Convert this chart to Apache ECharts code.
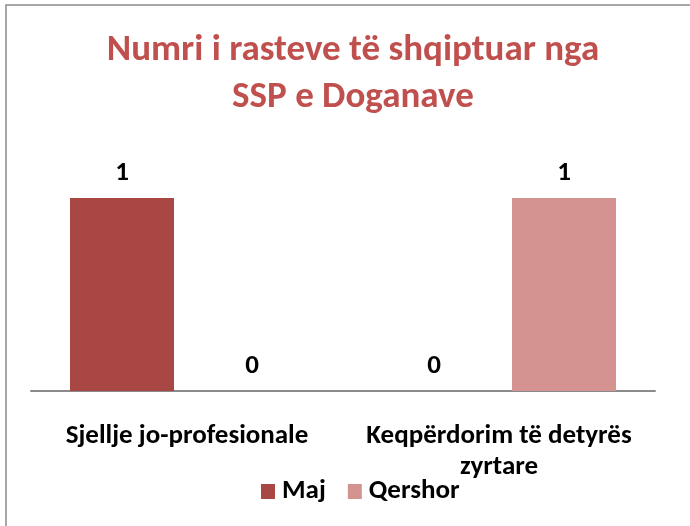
<!DOCTYPE html>
<html><head><meta charset="utf-8">
<script src="https://cdn.jsdelivr.net/npm/echarts@6/dist/echarts.min.js"></script>
<style>html,body{margin:0;padding:0;background:#fff}#main{width:690px;height:526px}</style>
</head><body><div id="main"></div>
<script>
const titleText = 'Numri i rasteve të shqiptuar nga\nSSP e Doganave';
const categories = ['Sjellje jo-profesionale', 'Keqpërdorim të detyrës zyrtare'];
const seriesNames = ['Maj', 'Qershor'];
const majValues = [1, 0];
const qershorValues = [0, 1];

const FONT = 'Carlito, Lato, sans-serif';
function wrapWords(s, maxChars) {
  const words = s.split(' ');
  const lines = [];
  let cur = '';
  words.forEach(w => {
    const next = cur ? cur + ' ' + w : w;
    if (next.length > maxChars && cur) { lines.push(cur); cur = w; }
    else cur = next;
  });
  if (cur) lines.push(cur);
  return lines.join('\n');
}
const chart = echarts.init(document.getElementById('main'), null, {renderer: 'canvas'});
chart.setOption({
  backgroundColor: '#ffffff',
  animation: false,
  title: {
    text: titleText,
    left: 353, top: 27, padding: 0,
    textAlign: 'center',
    textStyle: {fontFamily: FONT, fontSize: 37, fontWeight: 'bold', color: '#c0504d', lineHeight: 47}
  },
  graphic: [{
    type: 'rect', silent: true, z: -1,
    shape: {x: 6, y: 5, width: 900, height: 900},
    style: {fill: 'none', stroke: '#8a8a8a', lineWidth: 1.5}
  }],
  legend: {
    data: seriesNames,
    left: 261, top: 478, padding: 0,
    itemWidth: 14, itemHeight: 15, itemGap: 22,
    icon: 'rect',
    textStyle: {fontFamily: FONT, fontSize: 27, fontWeight: 'bold', color: '#000', padding: [0, 0, 0, 2]}
  },
  grid: {left: 31, right: 35, top: 159.4, bottom: 135, containLabel: false},
  xAxis: {
    type: 'category', data: categories,
    axisLine: {lineStyle: {color: '#8a8a8a', width: 2}},
    axisTick: {show: false},
    axisLabel: {
      interval: 0, margin: 30,
      formatter: v => wrapWords(v, 23),
      fontFamily: FONT, fontSize: 27, fontWeight: 'bold', color: '#000', lineHeight: 31
    }
  },
  yAxis: {type: 'value', min: 0, max: 1.2, show: false, splitLine: {show: false}},
  series: [
    {name: seriesNames[0], type: 'bar', data: majValues, barGap: '25%', barCategoryGap: '25%',
     itemStyle: {color: '#a94744'},
     label: {show: true, position: 'top', distance: 11, fontFamily: FONT, fontSize: 27, fontWeight: 'bold', color: '#000'}},
    {name: seriesNames[1], type: 'bar', data: qershorValues, barGap: '25%', barCategoryGap: '25%',
     itemStyle: {color: '#d49391'},
     label: {show: true, position: 'top', distance: 11, fontFamily: FONT, fontSize: 27, fontWeight: 'bold', color: '#000'}}
  ]
});
</script></body></html>
